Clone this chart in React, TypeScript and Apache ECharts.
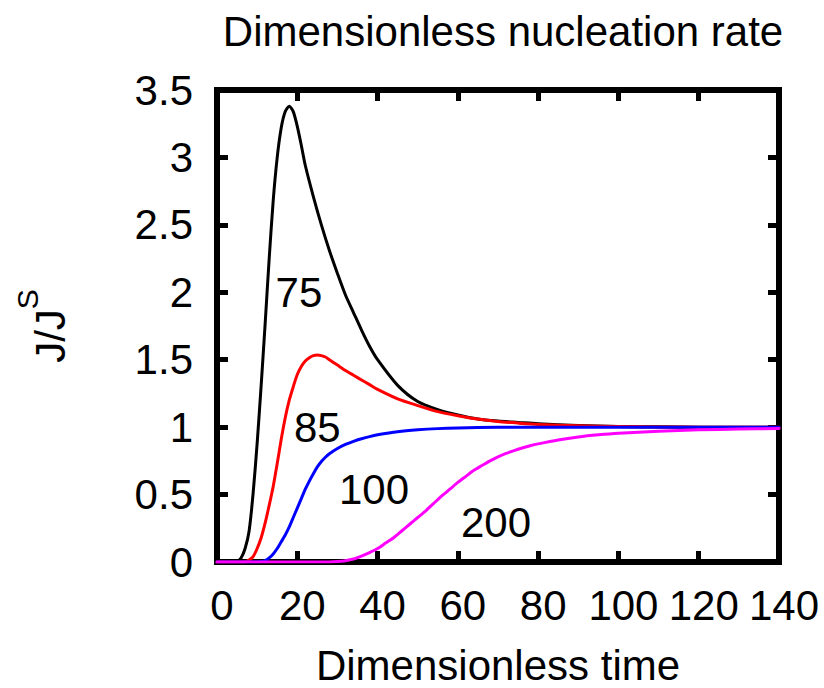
import React, { useEffect, useRef } from 'react';
import * as echarts from 'echarts';

// ---- Data ----
const xTicks = [0, 20, 40, 60, 80, 100, 120, 140];
const yTicks = [0, 0.5, 1, 1.5, 2, 2.5, 3, 3.5];

// curve "75" (black)
const blackT = [0, 2, 4, 5, 6, 7, 8, 9, 10, 11, 12, 13, 14, 15, 16, 17, 18, 19, 20, 21, 22, 24, 26, 28, 30, 32, 34, 36, 38, 40, 45, 50, 55, 60, 65, 70, 75, 80, 90, 100, 110, 120, 130, 140];
const blackV = [0, 0, 0, 0.005, 0.03, 0.1, 0.23, 0.51, 0.88, 1.31, 1.77, 2.25, 2.68, 3.0, 3.22, 3.34, 3.38, 3.34, 3.23, 3.09, 2.94, 2.71, 2.5, 2.31, 2.14, 1.98, 1.85, 1.72, 1.6, 1.5, 1.31, 1.19, 1.13, 1.09, 1.06, 1.045, 1.035, 1.025, 1.012, 1.005, 1.002, 1.0, 1.0, 1.0];

// curve "85" (red)
const redT = [0, 2, 4, 6, 7, 8, 9, 10, 11, 12, 13, 14, 15, 16, 17, 18, 19, 20, 21, 22, 23, 24, 25, 26, 27, 28, 30, 32, 34, 36, 38, 40, 45, 50, 55, 60, 65, 70, 75, 80, 90, 100, 110, 120, 130, 140];
const redV = [0, 0, 0, 0, 0, 0.015, 0.04, 0.1, 0.18, 0.29, 0.42, 0.56, 0.73, 0.91, 1.07, 1.2, 1.3, 1.39, 1.45, 1.49, 1.515, 1.53, 1.535, 1.53, 1.52, 1.5, 1.46, 1.42, 1.385, 1.35, 1.315, 1.28, 1.21, 1.16, 1.115, 1.085, 1.06, 1.042, 1.03, 1.02, 1.01, 1.004, 1.001, 1.0, 1.0, 1.0];

// curve "100" (blue)
const blueT = [0, 2, 4, 6, 8, 10, 11, 12, 13, 14, 15, 16, 17, 18, 19, 20, 21, 22, 23, 24, 25, 26, 27, 28, 30, 32, 34, 36, 38, 40, 45, 50, 55, 60, 70, 80, 90, 100, 110, 120, 130, 140];
const blueV = [0, 0, 0, 0, 0, 0, 0.003, 0.01, 0.03, 0.06, 0.1, 0.15, 0.2, 0.26, 0.33, 0.4, 0.47, 0.54, 0.6, 0.655, 0.705, 0.745, 0.777, 0.803, 0.842, 0.872, 0.895, 0.914, 0.93, 0.943, 0.966, 0.98, 0.989, 0.994, 0.999, 1.0, 1.0, 1.0, 1.0, 1.0, 1.0, 1.0];

// curve "200" (magenta)
const magT = [0, 4, 8, 12, 16, 20, 24, 28, 30, 32, 34, 36, 38, 40, 42, 44, 46, 48, 50, 52, 54, 56, 58, 60, 62, 64, 66, 68, 70, 72, 74, 76, 78, 80, 85, 90, 95, 100, 110, 120, 130, 140];
const magV = [0, 0, 0, 0, 0, 0, 0, 0, 0.003, 0.01, 0.022, 0.044, 0.07, 0.1, 0.14, 0.18, 0.23, 0.28, 0.33, 0.38, 0.435, 0.49, 0.54, 0.59, 0.635, 0.68, 0.715, 0.75, 0.78, 0.805, 0.826, 0.845, 0.862, 0.876, 0.905, 0.927, 0.943, 0.955, 0.97, 0.98, 0.986, 0.99];

const curveLabelText = ['75', '85', '100', '200'];
const curveLabelT = [20.4, 25.0, 39.1, 69.5];
const curveLabelV = [1.995, 0.997, 0.534, 0.293];

const FONT = 'Liberation Sans, Arial, Helvetica, sans-serif';

const pairs = (ts: number[], vs: number[]) => ts.map((t, i) => [t, vs[i]]);

function lineSeries(name: string, ts: number[], vs: number[], color: string) {
  return {
    name,
    type: 'line',
    data: pairs(ts, vs),
    showSymbol: false,
    symbol: 'none',
    smooth: 0.25,
    lineStyle: { color, width: 3, join: 'round', cap: 'round' },
    itemStyle: { color },
    z: 5,
  };
}

export default function App() {
  const ref = useRef<HTMLDivElement>(null);
  useEffect(() => {
    document.body.style.margin = '0';
    const chart = echarts.init(ref.current!, null, { renderer: 'svg' });
    const tickStyle = { show: true, inside: true, length: 11, lineStyle: { color: '#000', width: 5 } };
    const lineStyle = { show: true, onZero: false, lineStyle: { color: '#000', width: 6 } };
    const xMin = xTicks[0];
    const xMax = xTicks[xTicks.length - 1];
    const yMin = yTicks[0];
    const yMax = yTicks[yTicks.length - 1];
    const option = {
      animation: false,
      backgroundColor: '#fff',
      textStyle: { fontFamily: FONT },
      title: {
        text: 'Dimensionless nucleation rate',
        left: 498,
        top: 5,
        textAlign: 'center',
        textStyle: { fontFamily: FONT, fontSize: 42, fontWeight: 'normal', color: '#000' },
      },
      grid: {
        left: 217,
        right: 45,
        top: 90,
        bottom: 126,
        show: true,
        borderColor: '#000',
        borderWidth: 6,
        backgroundColor: 'transparent',
        containLabel: false,
        outerBoundsMode: 'none',
      },
      xAxis: [
        {
          type: 'value',
          position: 'bottom',
          min: xMin,
          max: xMax,
          interval: 20,
          axisLine: lineStyle,
          axisTick: tickStyle,
          splitLine: { show: false },
          axisLabel: {
            show: true,
            margin: 22,
            fontSize: 42,
            fontFamily: FONT,
            color: '#000',
            padding: [0, 0, 0, 10],
            showMinLabel: true,
            showMaxLabel: true,
          },
          name: 'Dimensionless time',
          nameLocation: 'middle',
          nameGap: 82,
          nameTextStyle: { fontFamily: FONT, fontSize: 42, color: '#000' },
        },
        {
          type: 'value',
          position: 'top',
          min: xMin,
          max: xMax,
          interval: 20,
          axisLine: lineStyle,
          axisTick: tickStyle,
          splitLine: { show: false },
          axisLabel: { show: false },
        },
      ],
      yAxis: [
        {
          type: 'value',
          position: 'left',
          min: yMin,
          max: yMax,
          interval: 0.5,
          axisLine: lineStyle,
          axisTick: tickStyle,
          splitLine: { show: false },
          axisLabel: {
            show: true,
            margin: 24,
            fontSize: 42,
            fontFamily: FONT,
            color: '#000',
            padding: [0, 0, 10, 0],
            showMinLabel: true,
            showMaxLabel: true,
          },
          name: '{m|J/J}{s|S}',
          nameLocation: 'middle',
          nameGap: 146,
          nameTextStyle: {
            fontFamily: FONT,
            color: '#000',
            rich: {
              m: { fontFamily: FONT, fontSize: 42, color: '#000', verticalAlign: 'bottom' },
              s: { fontFamily: FONT, fontSize: 30, color: '#000', verticalAlign: 'bottom', padding: [0, 0, 29, 0] },
            },
          },
        },
        {
          type: 'value',
          position: 'right',
          min: yMin,
          max: yMax,
          interval: 0.5,
          axisLine: lineStyle,
          axisTick: tickStyle,
          splitLine: { show: false },
          axisLabel: { show: false },
        },
      ],
      series: [
        lineSeries('75', blackT, blackV, '#000000'),
        lineSeries('85', redT, redV, '#ff0000'),
        lineSeries('100', blueT, blueV, '#0000ff'),
        lineSeries('200', magT, magV, '#ff00ff'),
      ],
    };
    chart.setOption(option as any);
    // curve annotations, positioned through the chart's own scales
    const graphic = curveLabelT.map((t, i) => {
      const p = chart.convertToPixel({ gridIndex: 0 }, [t, curveLabelV[i]]) as number[];
      return {
        type: 'text',
        x: p[0],
        y: p[1],
        z: 10,
        style: {
          text: curveLabelText[i],
          fontFamily: FONT,
          fontSize: 42,
          fill: '#000',
          align: 'center',
          verticalAlign: 'middle',
        },
      };
    });
    chart.setOption({ graphic } as any);
    return () => chart.dispose();
  }, []);
  return <div ref={ref} style={{ width: 824, height: 688, position: 'absolute', left: 0, top: 0 }} />;
}
